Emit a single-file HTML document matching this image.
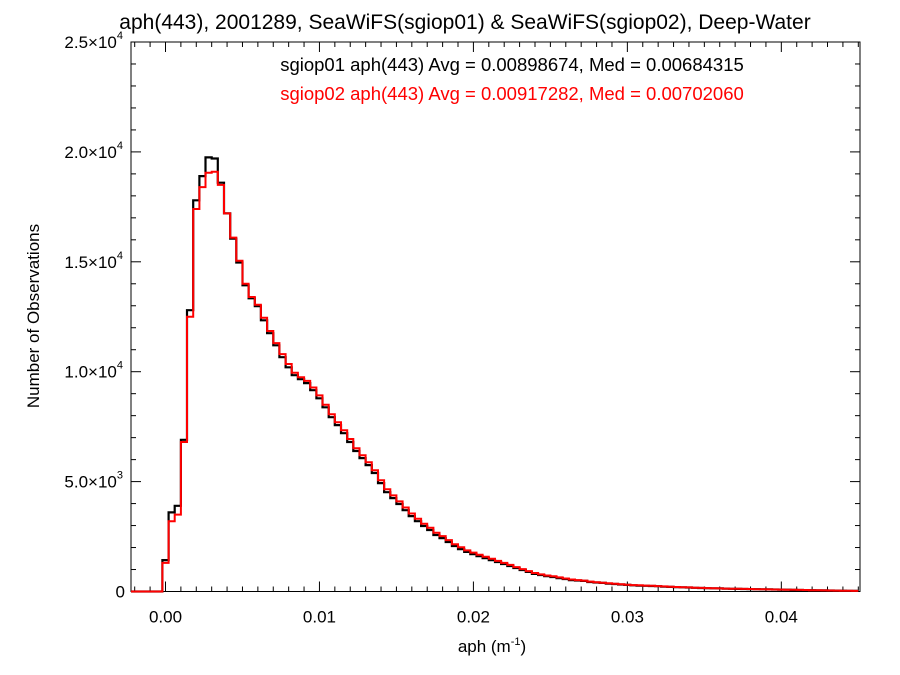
<!DOCTYPE html>
<html><head><meta charset="utf-8"><style>
body{margin:0;background:#fff;}
svg{display:block;font-family:"Liberation Sans",Arial,sans-serif;}
</style></head><body>
<svg id="chart" width="900" height="675" viewBox="0 0 900 675">
<text x="465" y="29" font-size="21" text-anchor="middle" fill="#000">aph(443), 2001289, SeaWiFS(sgiop01) &amp; SeaWiFS(sgiop02), Deep-Water</text>
<text x="512" y="71" font-size="18.5" text-anchor="middle" fill="#000">sgiop01 aph(443) Avg = 0.00898674, Med = 0.00684315</text>
<text x="512" y="100" font-size="18.5" text-anchor="middle" fill="#f00">sgiop02 aph(443) Avg = 0.00917282, Med = 0.00702060</text>
<text transform="translate(39,316) rotate(-90)" font-size="17" text-anchor="middle">Number of Observations</text>
<text x="492" y="652" font-size="17" text-anchor="middle">aph (m<tspan font-size="11" dy="-7">-1</tspan><tspan dy="7">)</tspan></text>
<g id="axes"></g>
<g id="series"></g>
</svg>
<script>
const binWidth = 0.0004;
const binStart = -0.0002;
const sgiop01 = [1430,3600,3900,6900,12800,17800,18900,19750,19700,18600,17200,16050,14970,13930,13340,12980,12340,11750,11200,10660,10200,9840,9660,9480,9160,8790,8380,7930,7570,7200,6800,6390,6070,5750,5390,4930,4520,4250,3980,3700,3430,3200,2980,2800,2570,2430,2250,2070,1930,1800,1700,1610,1520,1430,1340,1250,1160,1070,980,890,800,750,700,660,610,570,520,500,480,430,410,390,360,340,320,300,280,270,260,250,240,225,210,200,190,180,170,160,150,145,140,130,125,120,115,110,105,100,95,90,85,80,75,70,65,60,55,50,45,40,35,30,28];
const sgiop02 = [1300,3200,3500,6800,12500,17400,18400,19050,19100,18500,17200,16100,15050,14000,13400,13050,12450,11850,11300,10800,10350,9950,9750,9580,9280,8920,8500,8060,7700,7340,6940,6520,6200,5880,5520,5060,4650,4370,4100,3820,3550,3310,3080,2900,2670,2520,2340,2150,2010,1870,1770,1670,1580,1490,1390,1300,1210,1110,1020,930,840,780,730,690,640,590,545,520,495,450,425,400,375,350,330,310,290,280,270,258,246,230,215,205,195,185,175,165,155,148,142,133,127,122,117,112,106,101,96,91,86,81,76,71,66,61,56,51,46,41,36,31,29];
const xTicks = [0.00,0.01,0.02,0.03,0.04];
const xTickLabels = ["0.00","0.01","0.02","0.03","0.04"];
const yTicks = [0,5000,10000,15000,20000,25000];
const yTickMant = ["0","5.0","1.0","1.5","2.0","2.5"];
const yTickExp = ["","3","4","4","4","4"];

const L=131,R=860,T=42,B=591.5;
const xMin=-0.00224,xMax=0.04511,yMin=0,yMax=25000;
const sx=v=>L+(v-xMin)/(xMax-xMin)*(R-L);
const sy=v=>B-(v-yMin)/(yMax-yMin)*(B-T);
const NS="http://www.w3.org/2000/svg";
function mk(tag,attrs,parent){const e=document.createElementNS(NS,tag);for(const k in attrs)e.setAttribute(k,attrs[k]);parent.appendChild(e);return e;}
const axes=document.getElementById('axes'), series=document.getElementById('series');

const frame=mk('rect',{x:L,y:T,width:R-L,height:B-T,fill:'none',stroke:'#000','stroke-width':1},axes);



for(let v=-0.002;v<=xMax+1e-9;v+=0.001){
  const x=sx(v); const major=Math.abs(v/0.01-Math.round(v/0.01))<1e-6;
  const len=major?10:5;
  const t1=mk('line',{x1:x,x2:x,y1:B,y2:B-len,stroke:'#000','stroke-width':1},axes);
  
  
  const t2=mk('line',{x1:x,x2:x,y1:T,y2:T+len,stroke:'#000','stroke-width':1},axes);
  
  
}
xTicks.forEach((v,i)=>{
  const t=mk('text',{x:sx(v),y:B+31,'font-size':17,'text-anchor':'middle'},axes);
  t.textContent=xTickLabels[i];
  
  
});
for(let v=0;v<=yMax;v+=1000){
  const y=sy(v); const major=v%5000===0; const len=major?10:5;
  const t1=mk('line',{x1:L,x2:L+len,y1:y,y2:y,stroke:'#000','stroke-width':1},axes);
  
  
  const t2=mk('line',{x1:R,x2:R-len,y1:y,y2:y,stroke:'#000','stroke-width':1},axes);
  
  
}
yTicks.forEach((v,i)=>{
  const t=mk('text',{x:L-6,y:sy(v)+6,'font-size':17,'text-anchor':'end'},axes);
  
  
  if(yTickExp[i]===""){t.textContent=yTickMant[i];}
  else{
    t.setAttribute('x',L-8);
    const a=document.createElementNS(NS,'tspan');a.textContent=yTickMant[i]+"\u00D710";t.appendChild(a);
    const b=document.createElementNS(NS,'tspan');b.setAttribute('font-size','11');b.setAttribute('dy','-9');b.textContent=yTickExp[i];t.appendChild(b);
  }
});

function stepPath(vals){
  let pts=[[sx(xMin),sy(0)],[sx(binStart),sy(0)]];
  vals.forEach((v,i)=>{
    const x0=sx(binStart+i*binWidth), x1=sx(Math.min(binStart+(i+1)*binWidth,xMax));
    pts.push([x0,sy(v)]);pts.push([x1,sy(v)]);
  });
  return pts.map(p=>p[0].toFixed(1)+','+p[1].toFixed(1)).join(' ');
}
const p1=mk('polyline',{points:stepPath(sgiop01),fill:'none',stroke:'#000','stroke-width':2.2},series);


const p2=mk('polyline',{points:stepPath(sgiop02),fill:'none',stroke:'#f00','stroke-width':2},series);


</script>
</body></html>
